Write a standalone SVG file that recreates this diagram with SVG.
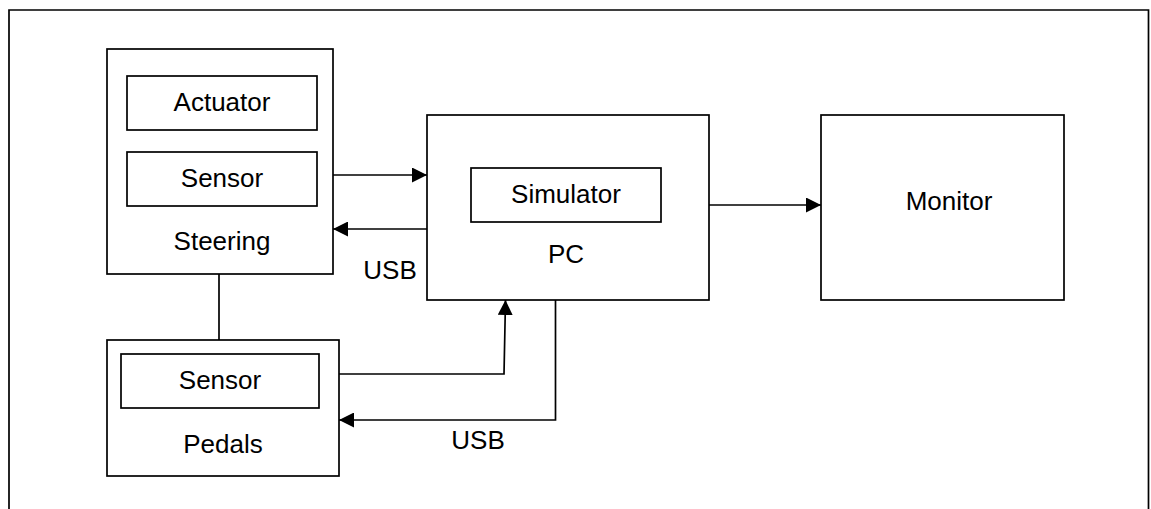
<svg xmlns="http://www.w3.org/2000/svg" width="1151" height="509" viewBox="0 0 1151 509">
<defs>
<style>
rect, .ln { fill: none; stroke: #000; stroke-width: 1.7; }
text { font-family: "Liberation Sans", Arial, sans-serif; font-size: 26px; fill: #000; text-anchor: middle; }
</style>
<marker id="ah" markerUnits="userSpaceOnUse" markerWidth="15" markerHeight="15" refX="15" refY="7.5" orient="auto">
<path d="M0,0 L15,7.5 L0,15 z" fill="#000"/>
</marker>
</defs>
<rect x="0" y="0" width="1151" height="509" style="fill:#fff;stroke:none"/>
<path class="ln" d="M9,530 V10 H1148.5 V530"/>

<g id="steering">
<rect x="107" y="49" width="226" height="225"/>
<text x="222" y="250">Steering</text>
</g>
<g id="actuator">
<rect x="127" y="76" width="190" height="54"/>
<text x="222" y="111">Actuator</text>
</g>
<g id="steering-sensor">
<rect x="127" y="152" width="190" height="54"/>
<text x="222" y="187">Sensor</text>
</g>
<g id="pc">
<rect x="427" y="115" width="282" height="185"/>
<text x="566" y="263">PC</text>
</g>
<g id="simulator">
<rect x="471" y="168" width="190" height="54"/>
<text x="566" y="203">Simulator</text>
</g>
<g id="monitor">
<rect x="821" y="115" width="243" height="185"/>
<text x="949" y="210">Monitor</text>
</g>
<g id="pedals">
<rect x="107" y="340" width="232" height="136"/>
<text x="223" y="453">Pedals</text>
</g>
<g id="pedals-sensor">
<rect x="121" y="354" width="198" height="54"/>
<text x="220" y="389">Sensor</text>
</g>

<g id="connectors">
<path class="ln" d="M333,175 H427" marker-end="url(#ah)"/>
<path class="ln" d="M427,229 H333" marker-end="url(#ah)"/>
<path class="ln" d="M709,205 H821" marker-end="url(#ah)"/>
<path class="ln" d="M219,274 V340"/>
<path class="ln" d="M339,374 H504 L505.5,300" marker-end="url(#ah)"/>
<path class="ln" d="M555.5,300 V420 H339" marker-end="url(#ah)"/>
<text x="390" y="279">USB</text>
<text x="478" y="449">USB</text>
</g>
</svg>
